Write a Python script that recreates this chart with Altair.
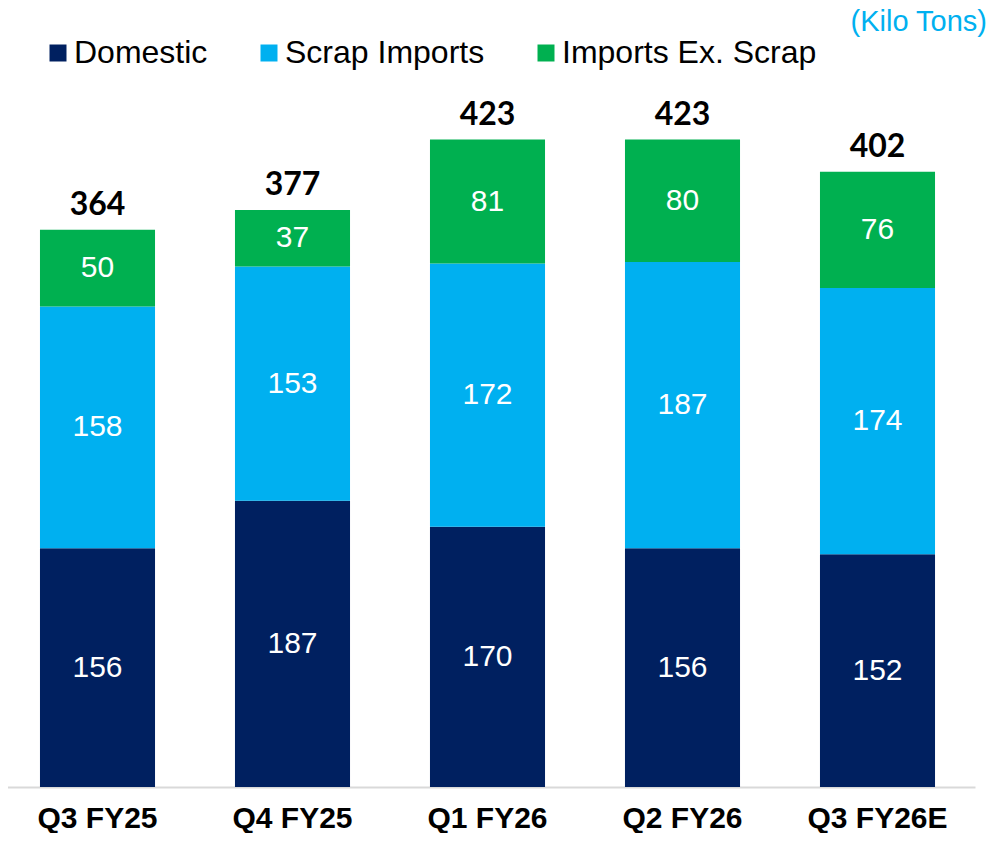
import altair as alt
import pandas as pd

quarters = ["Q3 FY25", "Q4 FY25", "Q1 FY26", "Q2 FY26", "Q3 FY26E"]
domestic = [156, 187, 170, 156, 152]
scrap_imports = [158, 153, 172, 187, 174]
imports_ex_scrap = [50, 37, 81, 80, 76]
totals = [364, 377, 423, 423, 402]

series = ["Domestic", "Scrap Imports", "Imports Ex. Scrap"]
colors = ["#002060", "#00b0f0", "#00b050"]

rows = []
for i, q in enumerate(quarters):
    base = 0
    for k, (name, vals) in enumerate(zip(series, [domestic, scrap_imports, imports_ex_scrap])):
        v = vals[i]
        rows.append({"quarter": q, "series": name, "order": k, "value": v,
                     "y0": base, "y1": base + v, "mid": base + v / 2})
        base += v
df = pd.DataFrame(rows)
tot = pd.DataFrame({"quarter": quarters, "total": totals})

FONT = "Liberation Sans"
ymax = 490

x = alt.X("quarter:N", sort=quarters, title=None,
          scale=alt.Scale(range=[-8, 967], paddingInner=0.41, paddingOuter=0.205),
          axis=alt.Axis(labelAngle=0, labelFont=FONT, labelFontSize=30, labelFontWeight="bold",
                        labelColor="#000000", labelPadding=16, ticks=False,
                        domainColor="#d9d9d9", domainWidth=2))
yscale = alt.Scale(domain=[0, ymax], nice=False)

bars = alt.Chart(df).mark_bar().encode(
    x=x,
    y=alt.Y("y0:Q", scale=yscale, axis=None),
    y2="y1:Q",
    color=alt.Color("series:N", sort=series,
                    scale=alt.Scale(domain=series, range=colors),
                    legend=alt.Legend(title=None, orient="none", legendX=34, legendY=0,
                                      direction="horizontal", symbolType="square",
                                      symbolSize=289, symbolStrokeWidth=0, padding=0,
                                      labelFont=FONT, labelFontSize=32, labelColor="#000000",
                                      labelLimit=0, labelOffset=0, columnPadding=45)),
)

inner = alt.Chart(df).mark_text(font=FONT, fontSize=30, color="white", baseline="middle").encode(
    x=alt.X("quarter:N", sort=quarters),
    y=alt.Y("mid:Q", scale=yscale, axis=None),
    text="value:Q",
)

top = alt.Chart(tot).mark_text(font="Lato", fontSize=32, fontWeight="bold", color="#000000",
                                baseline="alphabetic", dy=-15).encode(
    x=alt.X("quarter:N", sort=quarters),
    y=alt.Y("total:Q", scale=yscale, axis=None),
    text="total:Q",
)

chart = alt.layer(bars, inner, top).properties(
    width=979, height=750,
    padding=0,
    title=alt.Title("(Kilo Tons)", anchor="end", font=FONT, fontSize=29, fontWeight="normal",
                    color="#00b0f0", offset=0),
).configure_view(stroke="transparent", strokeWidth=0)

chart.save("out.html", embed_options={"renderer": "svg", "actions": False})
